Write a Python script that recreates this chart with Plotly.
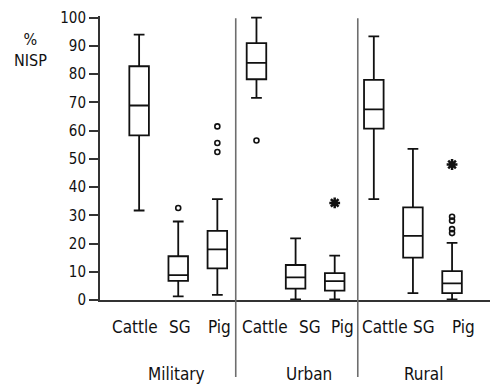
import plotly.graph_objects as go

# Assemblage groups and taxa (SG = sheep/goat)
groups = ["Military", "Urban", "Rural"]
taxa = ["Cattle", "SG", "Pig"]

# Box statistics for %NISP, ordered Military (Cattle, SG, Pig), Urban (...), Rural (...)
lower_whisker = [31.7, 1.3, 1.8, 71.6, 0.2, 0.2, 35.7, 2.4, 0.2]
q1 = [58.3, 6.8, 11.2, 78.2, 4.0, 3.3, 60.7, 15.0, 2.4]
median = [68.9, 8.8, 17.9, 84.0, 8.0, 6.7, 67.5, 22.7, 5.9]
q3 = [82.8, 15.5, 24.5, 91.0, 12.4, 9.5, 78.0, 32.8, 10.2]
upper_whisker = [94.0, 27.8, 35.7, 100.0, 21.8, 15.7, 93.4, 53.5, 20.2]

# Outliers (category index, value)
outlier_idx = [1, 2, 2, 2, 3, 8, 8, 8, 8]
outlier_val = [32.6, 61.5, 55.6, 52.4, 56.5, 29.5, 28.1, 25.1, 23.7]

# Extreme values
extreme_idx = [5, 8]
extreme_val = [34.4, 48.0]

positions = list(range(len(median)))
FONT = "DejaVu Sans Condensed, Liberation Sans, sans-serif"
INK = "#111111"

fig = go.Figure()

fig.add_trace(go.Box(
    x=positions,
    q1=q1, median=median, q3=q3,
    lowerfence=lower_whisker, upperfence=upper_whisker,
    width=0.5, whiskerwidth=0.55,
    fillcolor="white",
    line=dict(color=INK, width=1.8),
    boxpoints=False,
    hoverinfo="skip",
    showlegend=False,
))

fig.add_trace(go.Scatter(
    x=outlier_idx, y=outlier_val, mode="markers",
    marker=dict(symbol="circle-open", size=5, color=INK, line=dict(width=1.6, color=INK)),
    showlegend=False, cliponaxis=False,
))

fig.add_trace(go.Scatter(
    x=extreme_idx, y=extreme_val, mode="markers",
    marker=dict(symbol="asterisk-open", size=9, color=INK, line=dict(width=2.5, color=INK)),
    showlegend=False, cliponaxis=False,
))

# Group separators running from the top of the axis into the label area
for xs in (2.47, 5.59):
    fig.add_shape(type="line", xref="x", yref="paper", x0=xs, x1=xs, y0=-0.271, y1=0.992,
                  line=dict(color="#6e6e6e", width=1.6), layer="above")

# Taxon labels under each box
label_x = [-0.11, 1.04, 2.06, 3.21, 4.36, 5.21, 6.28, 7.28, 8.29]
for i, lx in enumerate(label_x):
    fig.add_annotation(x=lx, y=-0.095, xref="x", yref="paper", text=taxa[i % 3],
                       showarrow=False, yanchor="middle", xanchor="center",
                       font=dict(family=FONT, size=17, color=INK))

# Group labels
group_x = [0.95, 4.35, 7.26]
for g, gx in zip(groups, group_x):
    fig.add_annotation(x=gx, y=-0.262, xref="x", yref="paper", text=g,
                       showarrow=False, yanchor="middle", xanchor="center",
                       font=dict(family=FONT, size=17, color=INK))

fig.add_annotation(x=-0.179, y=0.88, xref="paper", yref="paper", text="%<br>NISP",
                   showarrow=False, xanchor="center", yanchor="middle", align="center",
                   font=dict(family=FONT, size=16, color=INK))

fig.update_xaxes(range=[-1, 8.97], showticklabels=False, ticks="", showgrid=False,
                 zeroline=False, showline=True, linecolor="#333", linewidth=2)
fig.update_yaxes(range=[0, 100.6], tickvals=list(range(0, 101, 10)), ticks="outside",
                 ticklen=9, tickwidth=2, tickcolor="#333", showgrid=False, zeroline=False,
                 showline=True, linecolor="#333", linewidth=2,
                 tickfont=dict(family=FONT, size=15, color=INK))

fig.update_layout(
    width=490, height=384,
    margin=dict(l=100, r=0, t=15.6, b=84),
    plot_bgcolor="white", paper_bgcolor="white",
    showlegend=False,
)

fig.write_html("out.html")
